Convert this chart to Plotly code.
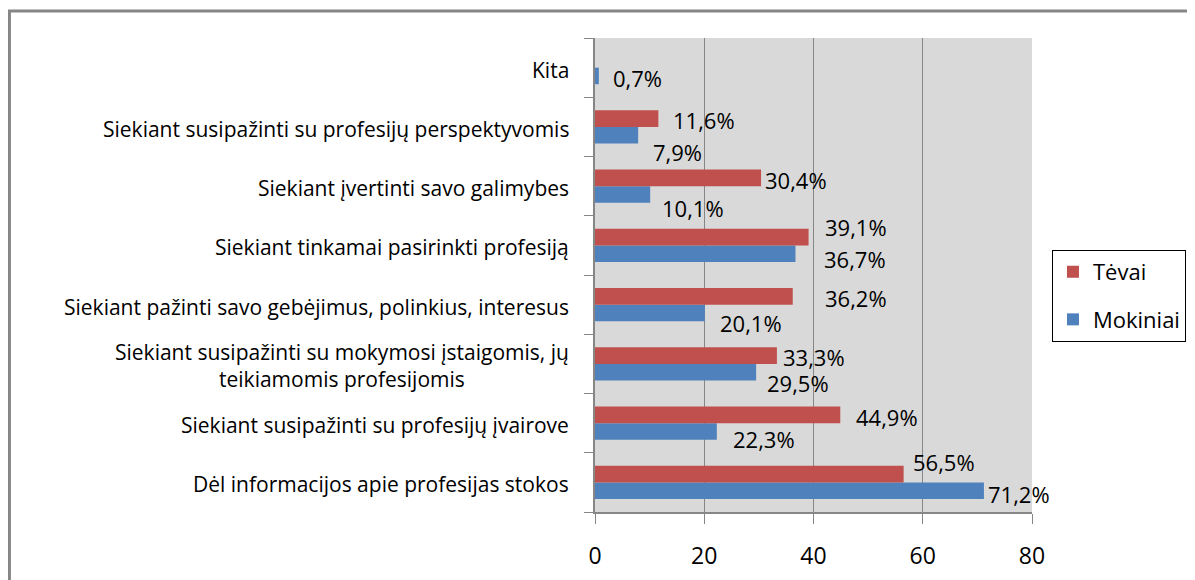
import plotly.graph_objects as go

categories = [
    "Dėl informacijos apie profesijas stokos",
    "Siekiant susipažinti su profesijų įvairove",
    "Siekiant susipažinti su mokymosi įstaigomis, jų<br>teikiamomis profesijomis",
    "Siekiant pažinti savo gebėjimus, polinkius, interesus",
    "Siekiant tinkamai pasirinkti profesiją",
    "Siekiant įvertinti savo galimybes",
    "Siekiant susipažinti su profesijų perspektyvomis",
    "Kita",
]
mokiniai = [71.2, 22.3, 29.5, 20.1, 36.7, 10.1, 7.9, 0.7]
tevai = [56.5, 44.9, 33.3, 36.2, 39.1, 30.4, 11.6, None]
x_ticks = [0, 20, 40, 60, 80]

# label nudges in pixels (dx to the right of bar end, dy downward from band centre)
nudge_mok = [(4, 11.5), (16, 15.5), (11, 19), (15, 18.5), (29, 13.5), (12, 21.5), (15, 25.5), (14, 10.5)]
nudge_tev = [(9, -20.5), (16, -6.5), (6, -7), (32, -6.5), (16, -18.5), (4, -6.5), (15, -6.5), (0, 0)]

RED = "#C0504D"
BLUE = "#4F81BD"
FONT = "Open Sans"

def fmt(v):
    return f"{v:.1f}".replace(".", ",") + "%"

fig = go.Figure()
fig.add_trace(go.Bar(y=categories, x=mokiniai, orientation="h", name="Mokiniai",
                     marker=dict(color=BLUE, line=dict(width=0)), legendgroup="m", legendrank=2))
fig.add_trace(go.Bar(y=categories, x=tevai, orientation="h", name="Tėvai",
                     marker=dict(color=RED, line=dict(width=0)), legendgroup="t", legendrank=1))

annotations = []
for i, cat in enumerate(categories):
    annotations.append(dict(x=0, xref="paper", y=cat, yref="y", text=cat, showarrow=False,
                            xanchor="right", yanchor="middle", xshift=-24, yshift=-2, align="center",
                            font=dict(family=FONT, size=21, color="#000")))
    v = mokiniai[i]
    dx, dy = nudge_mok[i]
    annotations.append(dict(x=v, y=cat, text=fmt(v), showarrow=False, xanchor="left", yanchor="middle",
                            xshift=dx - 2, yshift=-dy, font=dict(family=FONT, size=22, color="#000")))
    v = tevai[i]
    if v is not None:
        dx, dy = nudge_tev[i]
        annotations.append(dict(x=v, y=cat, text=fmt(v), showarrow=False, xanchor="left", yanchor="middle",
                                xshift=dx - 2, yshift=-dy, font=dict(family=FONT, size=22, color="#000")))

fig.update_layout(
    width=1187, height=572,
    margin=dict(l=587, r=163, t=30, b=68),
    paper_bgcolor="white", plot_bgcolor="#D9D9D9",
    barmode="group", bargap=0.44, bargroupgap=0,
    annotations=annotations,
    legend=dict(xref="container", yref="container", x=0.8795, y=0.577, xanchor="left", yanchor="top",
                bordercolor="#000", borderwidth=1, bgcolor="white",
                traceorder="grouped", tracegroupgap=16,
                font=dict(family=FONT, size=22, color="#000")),
    xaxis=dict(range=[0, 80], tickvals=x_ticks, showgrid=True, gridcolor="#868686", gridwidth=1,
               showline=True, linecolor="#868686", linewidth=2, ticks="outside", ticklen=10,
               tickcolor="#868686", tickwidth=1, ticklabelstandoff=12, zeroline=False,
               automargin=False, tickfont=dict(family=FONT, size=23, color="#000")),
    yaxis=dict(type="category", showticklabels=False, tickson="boundaries", ticks="outside",
               ticklen=9, tickcolor="#868686", showline=True, linecolor="#868686", linewidth=2,
               showgrid=False, automargin=False),
    shapes=[dict(type="rect", xref="paper", yref="paper", x0=-1.340, x1=1.40, y0=-0.2, y1=1.057,
                 line=dict(color="#868686", width=3), fillcolor="rgba(0,0,0,0)", layer="below")],
)

fig.write_html("out.html")
